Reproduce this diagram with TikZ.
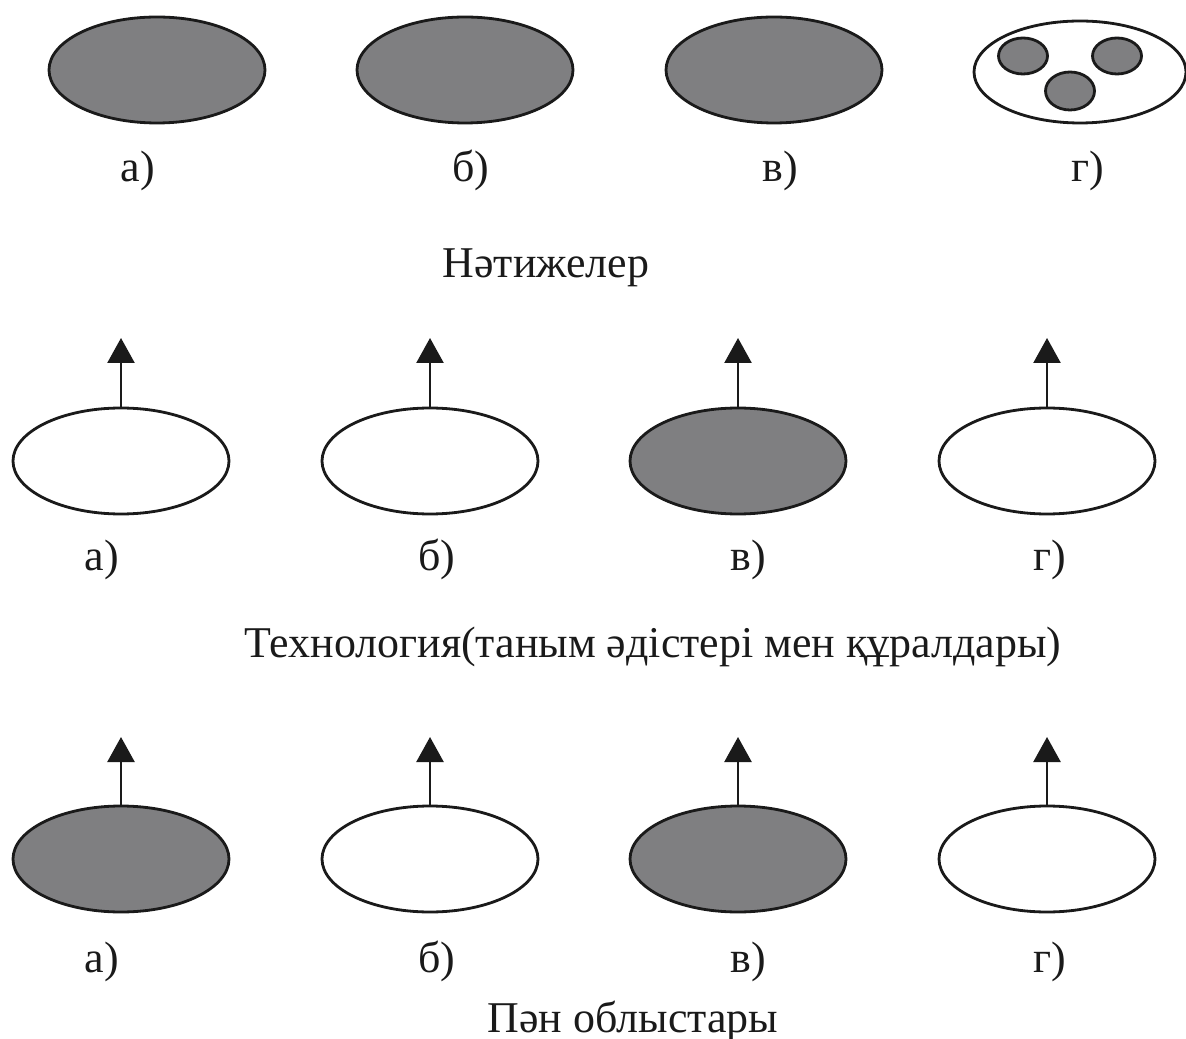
\documentclass[tikz,border=0pt]{standalone}
\usepackage{fontspec}
\setmainfont{Liberation Serif}
\usetikzlibrary{arrows.meta,shapes.geometric}
\definecolor{ink}{HTML}{1A1A1A}
\definecolor{shade}{HTML}{7F7F81}
\tikzset{blob/.style={ellipse,draw=ink,line width=.8pt,minimum width=2.16cm,minimum height=1.06cm,inner sep=0pt},
full/.style={blob,fill=shade},
hollow/.style={blob,fill=white},
dot/.style={blob,fill=shade,minimum width=.49cm,minimum height=.36cm},
up/.style={-{Triangle[length=2.5mm,width=2.7mm]},line width=.7pt,ink},
lab/.style={font=\fontsize{12.5}{15}\selectfont,text=ink,anchor=base,inner sep=0pt}}

\begin{document}
\begin{tikzpicture}[x=.1mm,y=-.1mm]
\useasboundingbox (0,0) rectangle (1186,1039);
% results
\node[full] (ra) at (157,70) {};
\node[full] (rb) at (465,70) {};
\node[full] (rc) at (774,70) {};
\node[hollow,minimum width=2.12cm,minimum height=1.02cm] (rd) at (1080,72) {};
\node[dot] (rd1) at (1023,56) {};
\node[dot] (rd2) at (1117,56) {};
\node[dot,minimum height=.38cm] (rd3) at (1070,91) {};
\node[lab] (ral) at (138,182) {а)};
\node[lab] (rbl) at (471,182) {б)};
\node[lab] (rcl) at (780,182) {в)};
\node[lab] (rdl) at (1088,182) {г)};
\node[lab] (rtitle) at (546,278) {Нәтижелер};
% technology
\node[hollow] (ta) at (121,461) {};
\node[hollow] (tb) at (430,461) {};
\node[full] (tc) at (738,461) {};
\node[hollow] (td) at (1047,461) {};
\foreach \n/\x in {a/121,b/430,c/738,d/1047} {
  \coordinate (tip t\n) at (\x,338);
  \draw[up] (t\n) -- (tip t\n);
}
\node[lab] (tal) at (102,570) {а)};
\node[lab] (tbl) at (437,570) {б)};
\node[lab] (tcl) at (748,570) {в)};
\node[lab] (tdl) at (1050,570) {г)};
\node[lab] (ttitle) at (653,657) {Технология(таным әдістері мен құралдары)};
% subject areas
\node[full] (pa) at (121,859) {};
\node[hollow] (pb) at (430,859) {};
\node[full] (pc) at (738,859) {};
\node[hollow] (pd) at (1047,859) {};
\foreach \n/\x in {a/121,b/430,c/738,d/1047} {
  \coordinate (tip p\n) at (\x,737);
  \draw[up] (p\n) -- (tip p\n);
}
\node[lab] (pal) at (102,972) {а)};
\node[lab] (pbl) at (437,972) {б)};
\node[lab] (pcl) at (748,972) {в)};
\node[lab] (pdl) at (1050,972) {г)};
\node[lab] (ptitle) at (633,1032) {Пән облыстары};
\end{tikzpicture}
\end{document}
